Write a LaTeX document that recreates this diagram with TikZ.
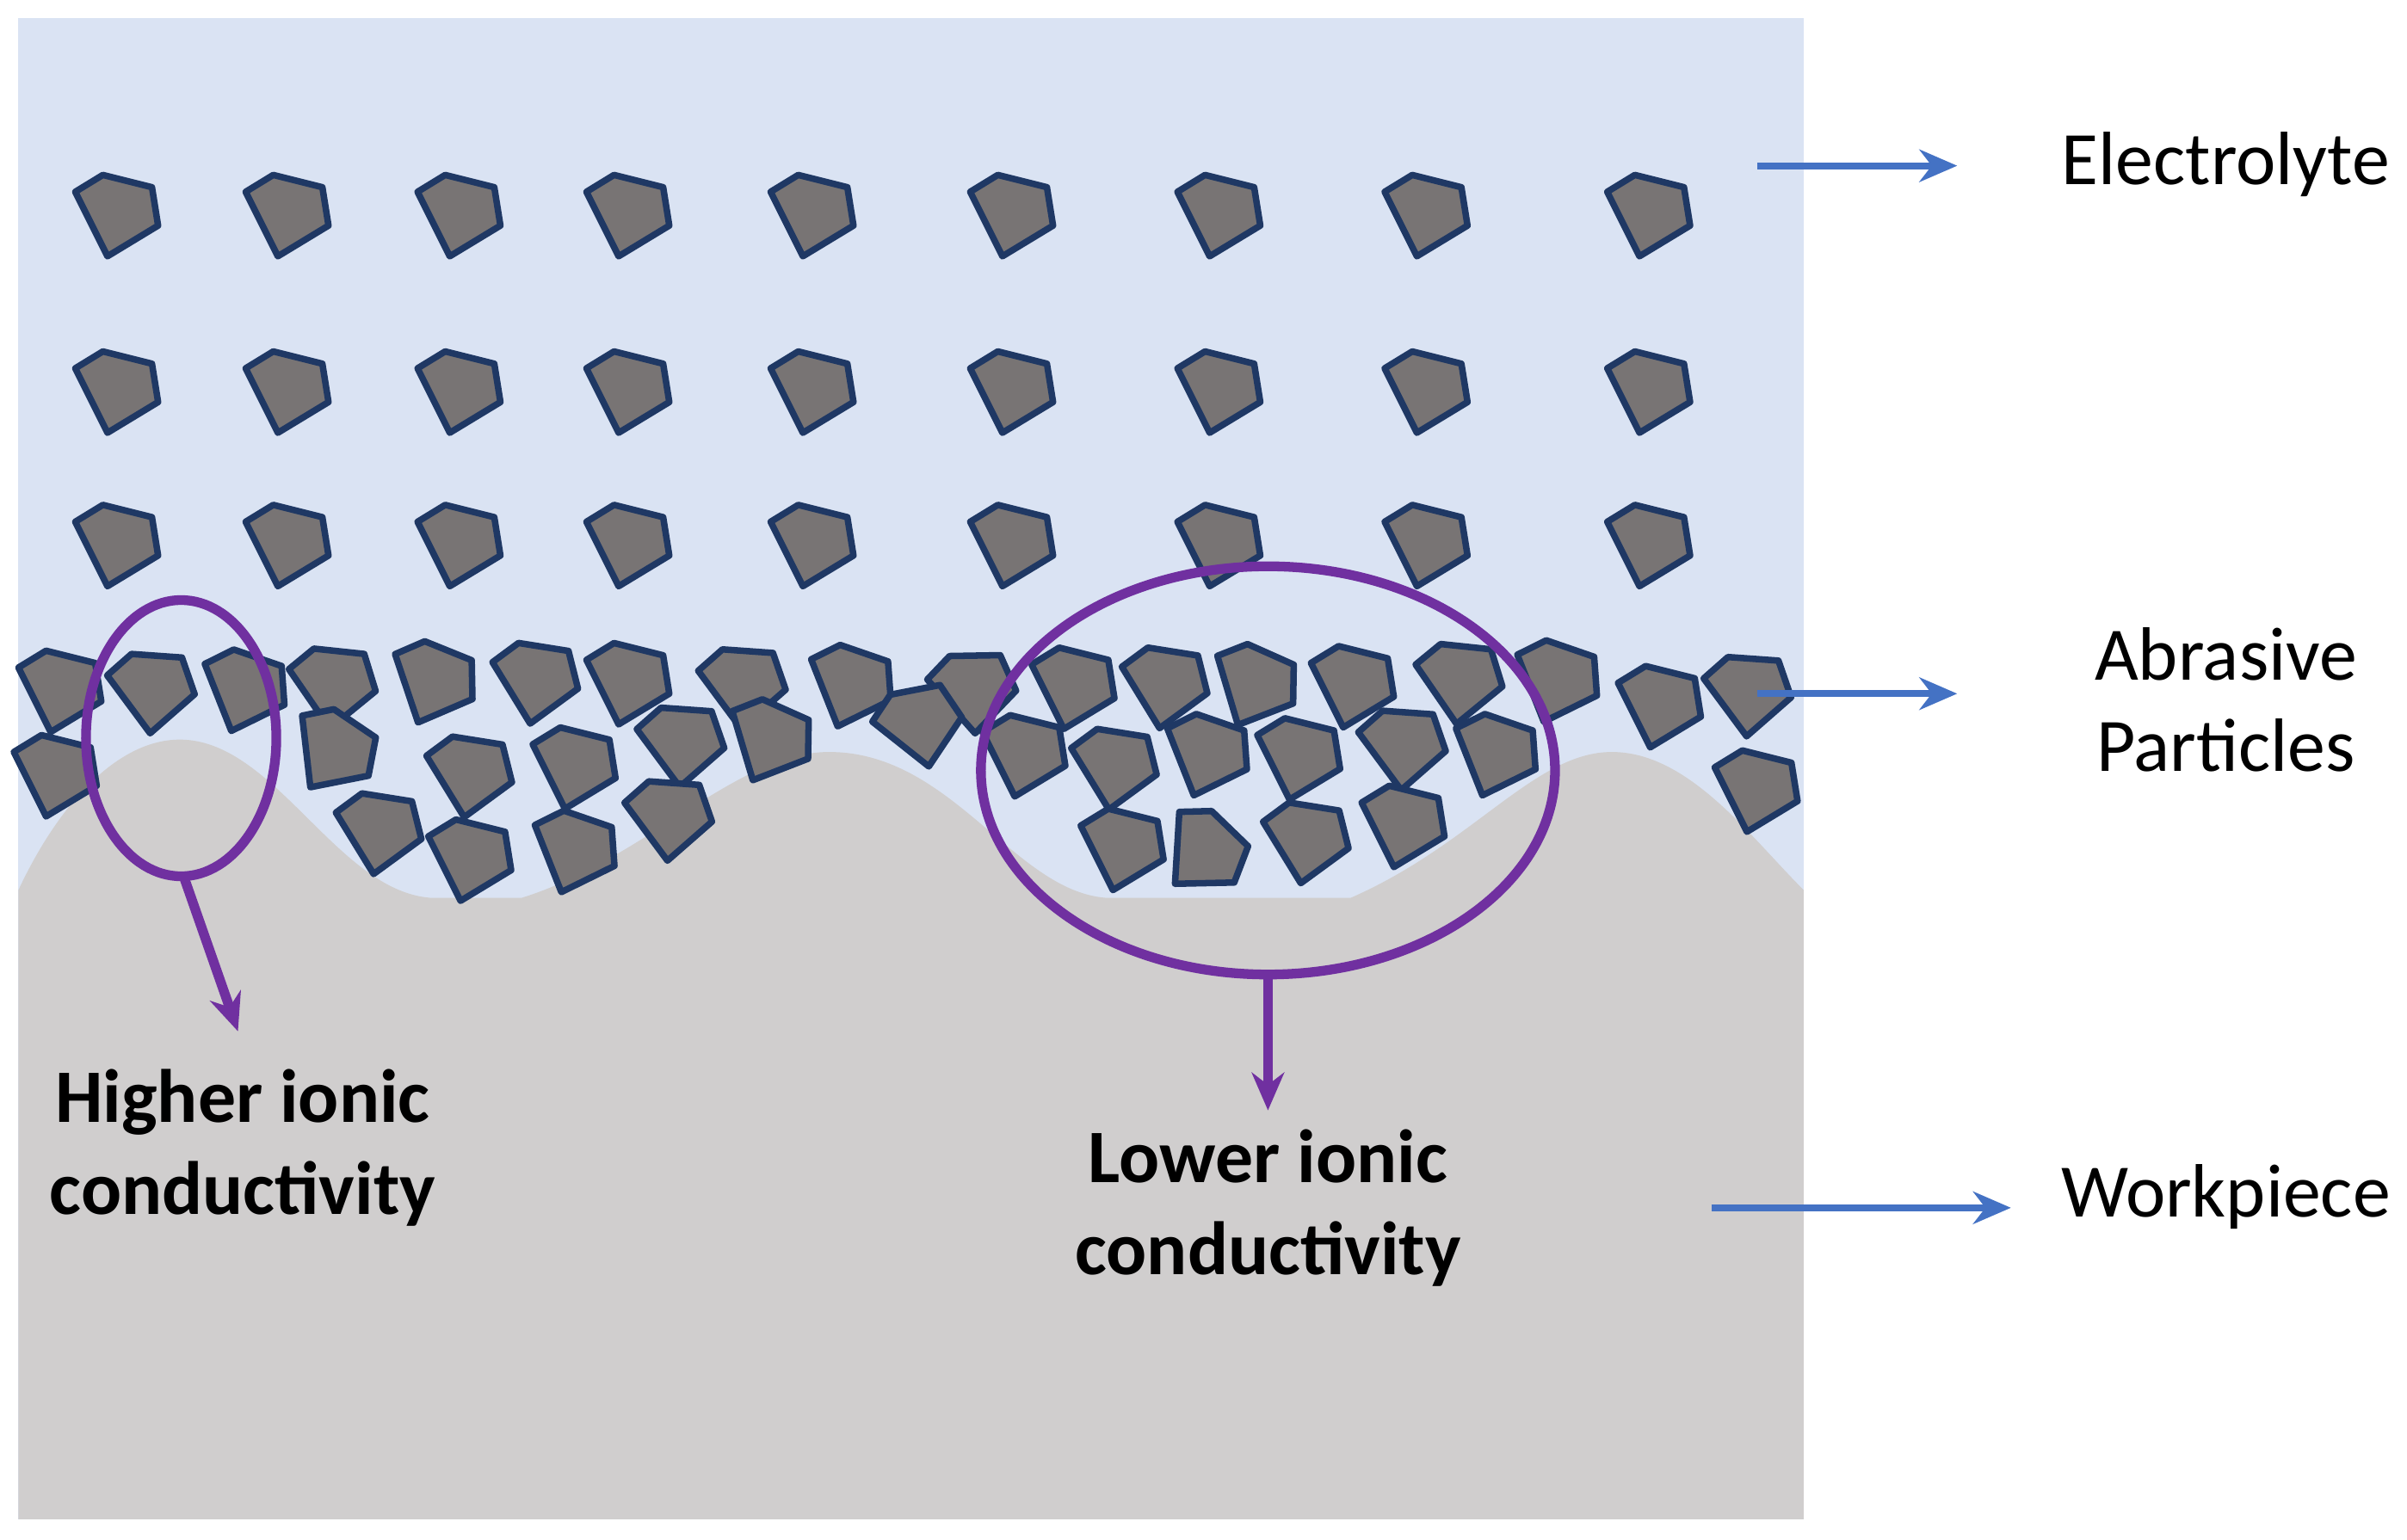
\documentclass[tikz,border=0pt]{standalone}
\usepackage{fontspec}
\setmainfont{Carlito}
\usetikzlibrary{arrows.meta}
\definecolor{elyte}{HTML}{DAE3F3}
\definecolor{wpiece}{HTML}{D0CECE}
\definecolor{grit}{HTML}{787474}
\definecolor{gritline}{HTML}{1F3864}
\definecolor{tagblue}{HTML}{4472C4}
\definecolor{zone}{HTML}{7030A0}
\tikzset{
  grain/.pic={\draw[fill=grit, draw=gritline, line width=1.2pt, line join=round]
    (-28,-15) -- (-10,-26) -- (22,-18) -- (26,7) -- (-7,27) -- cycle;},
  tag/.style={-{Stealth[length=7pt,width=6pt]}, tagblue, line width=1.3pt},
  circ/.style={zone, line width=1.8pt},
  zonearrow/.style={-{Stealth[length=7pt,width=6pt]}, zone, line width=1.8pt},
  side/.style={font=\fontsize{14}{17}\selectfont, align=center},
  bold/.style={font=\fontsize{14}{17}\selectfont\bfseries, align=center}
}
\begin{document}
\begin{tikzpicture}[x=0.01cm, y=-0.01cm]
    \useasboundingbox (0,0) rectangle (1568,1003);
    % electrolyte and workpiece
    \fill[elyte] (12,12) rectangle (1175,990);
    \fill[wpiece] (12,580) .. controls (40,520) and (80,480) .. (120,482)
        .. controls (180,485) and (220,580) .. (280,585) -- (340,585)
        .. controls (420,560) and (480,490) .. (540,490)
        .. controls (620,490) and (660,580) .. (720,585) -- (880,585)
        .. controls (960,550) and (1000,490) .. (1050,490)
        .. controls (1100,490) and (1140,545) .. (1175,580) -- (1175,990) -- (12,990) -- cycle;
    % suspended particles
    \foreach \py in {140,255,355}
        \foreach \px in {77,188,300,410,530,660,795,930,1075}
            \pic at (\px,\py) {grain};
    % packed layer
    \foreach \px/\py/\r in {40/450/0,100/450/10,160/450/-5,218/447/8,283/445/-8,350/444/5,410/445/0,485/447/10,555/447/-5,635/450/15,
        700/448/0,760/447/5,818/447/-10,882/447/0,952/444/8,1015/444/-5,1082/460/0,1140/452/10,
        37/505/0,218/490/-20,307/505/5,375/500/0,445/485/10,502/483/-10,600/472/25,668/492/0,727/500/5,787/492/-5,847/494/0,915/487/10,975/492/-5,1145/515/0,
        248/542/5,307/560/0,375/555/-5,437/533/10,732/553/0,785/556/-30,852/548/5,915/538/0}
        \pic[rotate=\r] at (\px,\py) {grain};
    % zones
    \draw[circ] (118,481) ellipse (62 and 90);
    \draw[circ] (826,502) ellipse (187 and 133);
    \coordinate (lowtip) at (120,572);
    \coordinate (bigtip) at (826,635);
    \node[bold] (higher) at (158,748) {Higher ionic\\conductivity};
    \node[bold] (lower) at (826,787) {Lower ionic\\conductivity};
    \draw[zonearrow] (lowtip) -- (155,672);
    \draw[zonearrow] (bigtip) -- (lower.north);
    % side labels
    \node[side] (electrolyte) at (1450,107) {Electrolyte};
    \node[side] (abrasive) at (1450,456) {Abrasive\\Particles};
    \node[side] (workpiece) at (1450,780) {Workpiece};
    \coordinate (e0) at (1145,108);
    \coordinate (a0) at (1145,452);
    \coordinate (w0) at (1115,787);
    \draw[tag] (e0) -- (1275,108);
    \draw[tag] (a0) -- (1275,452);
    \draw[tag] (w0) -- (1310,787);
\end{tikzpicture}
\end{document}
